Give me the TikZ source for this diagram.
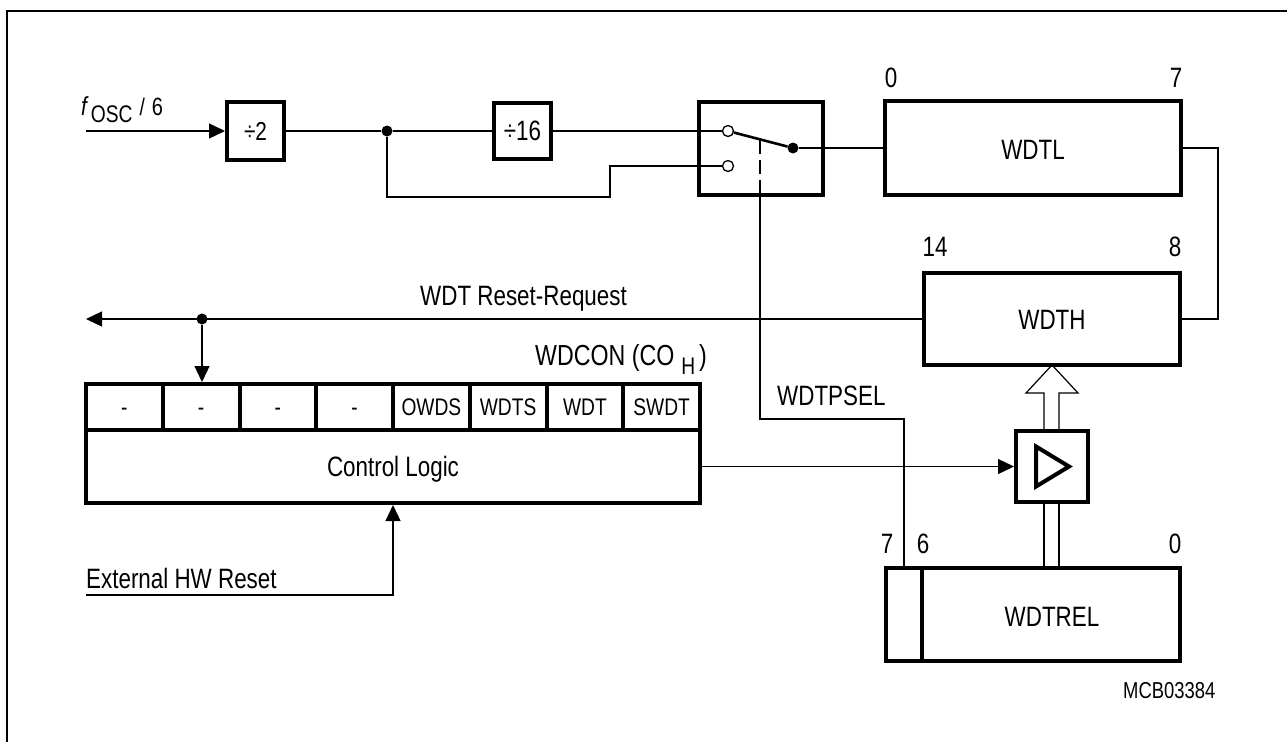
\documentclass[tikz,border=0pt]{standalone}
\usepackage{fontspec}
\setmainfont{Liberation Sans}[FakeStretch=0.8]
\usetikzlibrary{arrows.meta}
\newcommand\fszL{\fontsize{28}{30}\selectfont}
\newcommand\fszM{\fontsize{24}{26}\selectfont}
\newcommand\fszS{\fontsize{24}{26}\selectfont}
\begin{document}
\begin{tikzpicture}[x=1pt,y=-1pt,
  tbox/.style={draw, line width=4pt, inner sep=0pt, fill=white, font=\fszL},
  cell/.style={tbox, minimum width=76.75pt, minimum height=46pt, font=\fszM},
  wire/.style={line width=1.3pt},
  tip/.style={-{Triangle[length=16pt,width=15pt]}},
  lbl/.style={inner sep=0pt, font=\fszL},
  ocirc/.style={circle, draw, line width=1.3pt, fill=white, minimum size=11pt, inner sep=0pt},
  fdot/.style={circle, fill=black, minimum size=11pt, inner sep=0pt},
  frame/.style={line width=2pt}]
\useasboundingbox (0,0) rectangle (1287,742);
% frame
\coordinate (frTL) at (7,11);
\coordinate (frTR) at (1287,11);
\coordinate (frBL) at (7,742);
\draw[frame] (frTR) -- (frTL) -- (frBL);

% boxes
\node[tbox, minimum width=57pt, minimum height=58pt, font=\fontsize{26}{28}\selectfont] (div2) at (255.5,131) {÷2};
\node[tbox, minimum width=57pt, minimum height=56pt, font=\fontsize{28}{30}\selectfont] (div16) at (522.5,131) {÷16};
\node[tbox, minimum width=124pt, minimum height=93pt] (sw) at (761,148.5) {};
\node[tbox, minimum width=296pt, minimum height=94pt] (wdtl) at (1033,148) {};
\node[tbox, minimum width=256pt, minimum height=92pt] (wdth) at (1052,319) {};
\node[tbox, minimum width=72pt, minimum height=71pt] (buf) at (1052,466.5) {};
\node[tbox, minimum width=294pt, minimum height=93pt] (wdtrel) at (1033,614.5) {};
\node[tbox, minimum width=614pt, minimum height=73pt] (ctrl) at (393,466.5) {};
\foreach \t [count=\i from 0] in {-,-,-,-,OWDS,WDTS,WDT,SWDT}
  \node[cell] (c\i) at ({86+76.75*(\i+0.5)},407) {\vphantom{D}\t};

% box texts
\node[lbl, anchor=base] (wdtltxt) at (1033,159) {WDTL};
\node[lbl, anchor=base] (wdthtxt) at (1052,329) {WDTH};
\node[lbl, anchor=base] (wdtreltxt) at (1052,626) {WDTREL};
\node[lbl, anchor=base] (ctrltxt) at (393,476) {Control Logic};

% WDTREL divider
\coordinate (divx) at (922,0);
\draw[line width=4pt] (divx |- wdtrel.north) -- (divx |- wdtrel.south);

% buffer triangle
\draw[line width=4pt, line join=miter] ([shift={(-16,-20)}]buf.center) -- ([shift={(17,0)}]buf.center) -- ([shift={(-16,20)}]buf.center) -- cycle;

% bit numbers
\node[lbl, anchor=base] (n0a) at (891,87) {0};
\node[lbl, anchor=base] (n7a) at (1176,87) {7};
\node[lbl, anchor=base] (n14) at (935,256) {14};
\node[lbl, anchor=base] (n8) at (1175,256) {8};
\node[lbl, anchor=base] (n7b) at (887,553) {7};
\node[lbl, anchor=base] (n6) at (923,553) {6};
\node[lbl, anchor=base] (n0b) at (1175,553) {0};

% other labels
\node[inner sep=0pt, anchor=base west, font=\fszS] (fosc) at (81,115)
  {{\fontsize{26}{28}\selectfont\itshape f}\hspace{4pt}\raisebox{-7pt}{OSC}\hspace{7pt}/\hspace{7pt}{\fontsize{25}{27}\selectfont 6}};
\node[lbl, anchor=base west] (rrq) at (420,305) {WDT Reset-Request};
\node[lbl, anchor=base west, font=\fontsize{29}{30}\selectfont] (wdcon) at (535,365) {WDCON (CO\hspace{7pt}\raisebox{-9pt}{\fontsize{24}{26}\selectfont H}\hspace{4pt})};
\node[lbl, anchor=base west] (selt) at (777,405) {WDTPSEL};
\node[lbl, anchor=base west] (extt) at (86,588) {External HW Reset};
\node[inner sep=0pt, anchor=base west, font=\fontsize{23}{25}\selectfont] (mcb) at (1123,698) {MCB03384};

% prescaler wiring
\coordinate (fin) at (86,131);
\node[fdot] (split) at (387,131) {};
\node[ocirc] (s1) at (728,131) {};
\node[ocirc] (s2) at (728,166) {};
\node[fdot] (s3) at (793,148) {};
\coordinate (bend1) at (610,197);
\draw[wire, tip] (fin) -- (div2.west);
\draw[wire] (div2.east) -- (split) -- (div16.west);
\draw[wire] (div16.east) -- (s1.west);
\draw[wire] (split) |- (bend1) |- (s2.west);
\draw[line width=2.6pt] (s1) -- (s3);
\draw[wire] (s3) -- (wdtl.west);

% WDTPSEL control
\coordinate (armpt) at (760,140);
\coordinate (selb1) at (760,419);
\coordinate (selb2) at (904,419);
\draw[wire, dash pattern=on 14pt off 6pt] (armpt) -- (armpt |- sw.south);
\draw[wire] (armpt |- sw.south) -- (selb1) -- (selb2) -- (selb2 |- wdtrel.north);

% WDTL -> WDTH
\coordinate (rc) at (1218,0);
\draw[wire] (wdtl.east) -- (wdtl.east -| rc) -- (wdth.east -| rc) -- (wdth.east);

% reset request
\coordinate (rrend) at (86,319);
\node[fdot] (rdot) at (202,319) {};
\draw[wire, tip] (wdth.west) -- (rrend);
\draw[wire, tip] (rdot) -- (rdot |- c1.north);

% external reset
\coordinate (ext) at (86,595);
\draw[wire, tip] (ext) -- (ext -| ctrl.south) -- (ctrl.south);

% control -> buffer
\draw[wire, tip] (ctrl.east) -- (buf.west);

% bus WDTREL -> buffer -> WDTH
\coordinate (busL) at (1044,0);
\coordinate (busR) at (1059,0);
\coordinate (headL) at (1026,393);
\coordinate (headR) at (1078,393);
\draw[line width=1.2pt] (busL |- buf.south) -- (busL |- wdtrel.north);
\draw[line width=1.2pt] (busR |- buf.south) -- (busR |- wdtrel.north);
\draw[line width=1.2pt, line join=miter] (busL |- buf.north) -- (busL |- headL) -- (headL) -- ([yshift=2pt]wdth.south) -- (headR) -- (busR |- headR) -- (busR |- buf.north);
\end{tikzpicture}
\end{document}
